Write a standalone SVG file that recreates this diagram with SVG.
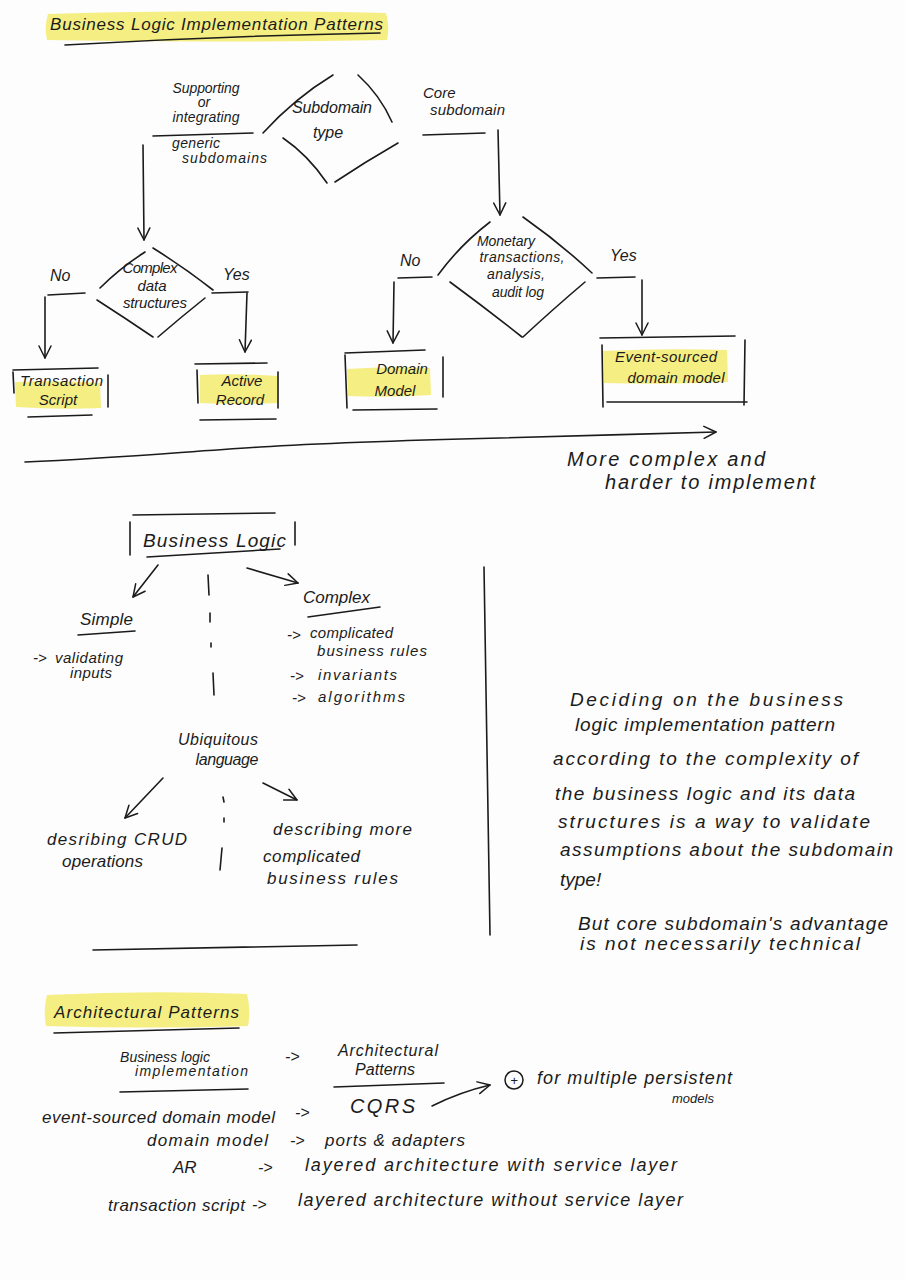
<svg xmlns="http://www.w3.org/2000/svg" width="905" height="1280" viewBox="0 0 905 1280">
<defs>
<style>
.bg{fill:#fdfdfd}
.t{font-family:"Liberation Sans","DejaVu Sans",sans-serif;font-style:italic;fill:#1b1b1b}
.c{text-anchor:middle}
.ln{fill:none;stroke:#1b1b1b;stroke-width:1.6;stroke-linecap:round;stroke-linejoin:round}
.hl{fill:#f4ec74;opacity:0.9}
.ar{marker-end:url(#ah)}
</style>
<marker id="ah" viewBox="0 0 14 14" refX="13" refY="7" markerWidth="14" markerHeight="14" markerUnits="userSpaceOnUse" orient="auto">
<path d="M1,1 L13,7 L1,13" fill="none" stroke="#1b1b1b" stroke-width="1.5" stroke-linecap="round" stroke-linejoin="round"/>
</marker>
</defs>
<rect class="bg" x="0" y="0" width="905" height="1280"/>

<!-- Title -->
<g id="title">
<path class="hl" d="M48,14 Q200,9 386,13 Q390,27 387,40 Q220,43 47,40 Q44,27 48,14 Z"/>
<text class="t" x="50" y="30" font-size="17" textLength="333">Business Logic Implementation Patterns</text>
<path class="ln" d="M65,45 Q220,36 380,33"/>
</g>

<!-- Decision tree -->
<g id="n-subdomain-type">
<path class="ln" d="M263,133 Q295,98 333,75"/>
<path class="ln" d="M358,75 Q380,95 392,122"/>
<path class="ln" d="M398,143 Q365,162 335,182"/>
<path class="ln" d="M283,138 Q308,155 327,183"/>
<text class="t c" x="332" y="113" font-size="16" textLength="80">Subdomain</text>
<text class="t c" x="328" y="138" font-size="16">type</text>
</g>

<g id="n-supporting-label">
<text class="t c" x="206" y="93" font-size="14" textLength="67">Supporting</text>
<text class="t c" x="204" y="107" font-size="14">or</text>
<text class="t c" x="206" y="122" font-size="14" textLength="67">integrating</text>
<text class="t" x="172" y="148" font-size="14" textLength="48">generic</text>
<text class="t" x="182" y="163" font-size="14" textLength="85">subdomains</text>
</g>

<g id="n-core-label">
<text class="t" x="423" y="98" font-size="15">Core</text>
<text class="t" x="430" y="115" font-size="15" textLength="75">subdomain</text>
</g>

<g id="n-complex-data">
<path class="ln" d="M100,288 Q120,268 145,252"/>
<path class="ln" d="M153,248 Q185,268 213,290"/>
<path class="ln" d="M205,298 Q180,318 158,337"/>
<path class="ln" d="M97,300 Q125,318 153,337"/>
<text class="t c" x="150" y="273" font-size="15" textLength="55">Complex</text>
<text class="t c" x="152" y="291" font-size="15">data</text>
<text class="t c" x="155" y="308" font-size="15" textLength="64">structures</text>
</g>

<g id="n-monetary">
<path class="ln" d="M438,275 Q460,245 490,222"/>
<path class="ln" d="M523,217 Q560,243 592,273"/>
<path class="ln" d="M585,282 Q552,310 523,337"/>
<path class="ln" d="M450,282 Q488,310 522,337"/>
<text class="t c" x="506" y="246" font-size="14" textLength="58">Monetary</text>
<text class="t c" x="522" y="262" font-size="14" textLength="85">transactions,</text>
<text class="t c" x="516" y="279" font-size="14" textLength="58">analysis,</text>
<text class="t c" x="518" y="297" font-size="14" textLength="52">audit log</text>
</g>

<g id="n-transaction-script">
<path class="hl" d="M15,382 Q60,380 100,383 L101,408 Q58,410 16,407 Z"/>
<path class="ln" d="M13,370 L98,368"/>
<path class="ln" d="M13,372 L14,393"/>
<path class="ln" d="M108,375 L108,407"/>
<path class="ln" d="M28,417 L92,415"/>
<text class="t" x="20" y="386" font-size="15" textLength="83">Transaction</text>
<text class="t c" x="58" y="405" font-size="15">Script</text>
</g>

<g id="n-active-record">
<path class="hl" d="M200,375 Q240,373 277,376 L277,403 Q238,405 200,403 Z"/>
<path class="ln" d="M195,364 L267,363"/>
<path class="ln" d="M197,370 L198,403"/>
<path class="ln" d="M278,372 L278,408"/>
<path class="ln" d="M200,420 L276,419"/>
<text class="t c" x="242" y="386" font-size="15">Active</text>
<text class="t c" x="240" y="405" font-size="15">Record</text>
</g>

<g id="n-domain-model">
<path class="hl" d="M347,369 Q390,366 430,368 L431,395 Q390,398 348,396 Z"/>
<path class="ln" d="M345,353 L425,350"/>
<path class="ln" d="M345,355 L347,408"/>
<path class="ln" d="M443,357 L443,397"/>
<path class="ln" d="M353,410 L437,409"/>
<text class="t c" x="402" y="374" font-size="15">Domain</text>
<text class="t c" x="395" y="396" font-size="15">Model</text>
</g>

<g id="n-event-sourced">
<path class="hl" d="M603,351 Q665,348 727,350 L728,382 Q665,385 604,383 Z"/>
<path class="ln" d="M600,338 L735,336"/>
<path class="ln" d="M602,345 L603,407"/>
<path class="ln" d="M745,340 L744,405"/>
<path class="ln" d="M607,402 L747,402"/>
<text class="t c" x="666" y="362" font-size="15" textLength="102">Event-sourced</text>
<text class="t c" x="676" y="383" font-size="15" textLength="97">domain model</text>
</g>

<g id="connectors">
<path class="ln" d="M153,136 L253,133"/>
<path class="ln ar" d="M143,145 L144,240"/>
<path class="ln" d="M423,135 L485,133"/>
<path class="ln ar" d="M498,130 L500,215"/>
<path class="ln" d="M48,295 L85,293"/>
<path class="ln ar" d="M45,297 L45,358"/>
<path class="ln" d="M212,293 L248,292"/>
<path class="ln ar" d="M247,293 L245,352"/>
<path class="ln" d="M398,278 L432,277"/>
<path class="ln ar" d="M394,282 L393,343"/>
<path class="ln" d="M597,278 L635,277"/>
<path class="ln ar" d="M642,280 L642,335"/>
<path class="ln ar" d="M25,462 C120,458 180,452 260,447 S420,440 500,438 S640,434 716,432"/>
<!-- business logic section -->
<path class="ln ar" d="M158,565 L133,597"/>
<path class="ln ar" d="M247,568 L298,583"/>
<path class="ln" d="M208,575 L209,595 M210,613 L210,622 M211,643 L211,647 M213,673 L214,695"/>
<path class="ln ar" d="M163,778 L125,818"/>
<path class="ln ar" d="M263,783 L297,800"/>
<path class="ln" d="M223,797 L224,802 M224,818 L224,822 M222,848 L220,870"/>
<!-- architectural section -->
<path class="ln ar" d="M432,1106 Q460,1092 490,1085"/>
</g>

<g id="edge-labels">
<text class="t" x="400" y="266" font-size="16">No</text>
<text class="t" x="610" y="261" font-size="16">Yes</text>
<text class="t" x="50" y="281" font-size="16">No</text>
<text class="t" x="223" y="280" font-size="16">Yes</text>
</g>

<g id="n-complexity-note">
<text class="t" x="567" y="466" font-size="20" textLength="198">More complex and</text>
<text class="t" x="605" y="489" font-size="20" textLength="210">harder to implement</text>
</g>

<!-- Business logic -->
<g id="n-business-logic">
<path class="ln" d="M133,515 L275,513"/>
<path class="ln" d="M130,522 L130,555"/>
<path class="ln" d="M295,522 L295,545"/>
<path class="ln" d="M147,557 L280,549"/>
<text class="t" x="143" y="547" font-size="19" textLength="143">Business Logic</text>
</g>

<g id="n-simple">
<text class="t" x="80" y="625" font-size="17" textLength="53">Simple</text>
<path class="ln" d="M78,635 L135,631"/>
<text class="t" x="33" y="663" font-size="15">-&gt;</text>
<text class="t" x="55" y="663" font-size="15" textLength="68">validating</text>
<text class="t" x="70" y="678" font-size="15" textLength="42">inputs</text>
</g>

<g id="n-complex">
<text class="t" x="303" y="603" font-size="17" textLength="67">Complex</text>
<path class="ln" d="M308,617 L380,607"/>
<text class="t" x="287" y="640" font-size="15">-&gt;</text>
<text class="t" x="310" y="638" font-size="15" textLength="83">complicated</text>
<text class="t" x="317" y="656" font-size="15" textLength="110">business rules</text>
<text class="t" x="290" y="681" font-size="15">-&gt;</text>
<text class="t" x="318" y="680" font-size="15" textLength="79">invariants</text>
<text class="t" x="292" y="703" font-size="15">-&gt;</text>
<text class="t" x="318" y="702" font-size="15" textLength="87">algorithms</text>
</g>

<g id="n-ubiquitous">
<text class="t c" x="218" y="745" font-size="16" textLength="80">Ubiquitous</text>
<text class="t c" x="227" y="765" font-size="16" textLength="63">language</text>
</g>

<g id="n-crud">
<text class="t" x="47" y="845" font-size="17" textLength="140">desribing CRUD</text>
<text class="t" x="62" y="867" font-size="17" textLength="81">operations</text>
</g>

<g id="n-complicated">
<text class="t" x="273" y="835" font-size="17" textLength="139">describing more</text>
<text class="t" x="263" y="862" font-size="17" textLength="97">complicated</text>
<text class="t" x="267" y="884" font-size="17" textLength="131">business rules</text>
</g>

<g id="dividers">
<path class="ln" d="M484,567 L490,935"/>
<path class="ln" d="M93,950 L357,945"/>
</g>

<g id="n-deciding-note">
<text class="t" x="570" y="706" font-size="19" textLength="273">Deciding on the business</text>
<text class="t" x="575" y="731" font-size="19" textLength="260">logic implementation pattern</text>
<text class="t" x="553" y="765" font-size="19" textLength="305">according to the complexity of</text>
<text class="t" x="555" y="800" font-size="19" textLength="300">the business logic and its data</text>
<text class="t" x="558" y="828" font-size="19" textLength="312">structures is a way to validate</text>
<text class="t" x="560" y="856" font-size="19" textLength="333">assumptions about the subdomain</text>
<text class="t" x="560" y="886" font-size="19">type!</text>
<text class="t" x="578" y="930" font-size="19" textLength="310">But core subdomain's advantage</text>
<text class="t" x="580" y="950" font-size="19" textLength="280">is not necessarily technical</text>
</g>

<!-- Architectural patterns -->
<g id="arch-title">
<path class="hl" d="M47,995 Q150,990 247,994 Q251,1010 248,1026 Q150,1029 46,1026 Q43,1010 47,995 Z"/>
<text class="t" x="54" y="1018" font-size="17" textLength="185">Architectural Patterns</text>
<path class="ln" d="M54,1033 L239,1028"/>
</g>

<g id="n-arch-header">
<text class="t" x="120" y="1062" font-size="14" textLength="90">Business logic</text>
<text class="t" x="135" y="1076" font-size="14" textLength="113">implementation</text>
<path class="ln" d="M120,1092 L248,1089"/>
<text class="t" x="285" y="1062" font-size="16">-&gt;</text>
<text class="t" x="338" y="1056" font-size="16" textLength="100">Architectural</text>
<text class="t" x="355" y="1075" font-size="16" textLength="60">Patterns</text>
<path class="ln" d="M334,1087 L444,1083"/>
</g>

<g id="n-arch-rows">
<text class="t" x="42" y="1123" font-size="17" textLength="233">event-sourced domain model</text>
<text class="t" x="295" y="1118" font-size="16">-&gt;</text>
<text class="t" x="350" y="1113" font-size="20" textLength="65">CQRS</text>
<text class="t" x="147" y="1146" font-size="17" textLength="121">domain model</text>
<text class="t" x="290" y="1146" font-size="16">-&gt;</text>
<text class="t" x="325" y="1146" font-size="17" textLength="140">ports &amp; adapters</text>
<text class="t" x="173" y="1173" font-size="17">AR</text>
<text class="t" x="258" y="1173" font-size="16">-&gt;</text>
<text class="t" x="305" y="1171" font-size="18" textLength="372">layered architecture with service layer</text>
<text class="t" x="108" y="1211" font-size="17" textLength="137">transaction script</text>
<text class="t" x="252" y="1210" font-size="16">-&gt;</text>
<text class="t" x="298" y="1206" font-size="18" textLength="385">layered architecture without service layer</text>
</g>

<g id="n-cqrs-note">
<circle cx="514" cy="1080" r="9" fill="none" stroke="#1b1b1b" stroke-width="1.5"/>
<text class="t c" x="514" y="1085" font-size="13">+</text>
<text class="t" x="537" y="1084" font-size="18" textLength="195">for multiple persistent</text>
<text class="t" x="672" y="1103" font-size="13">models</text>
</g>
</svg>
